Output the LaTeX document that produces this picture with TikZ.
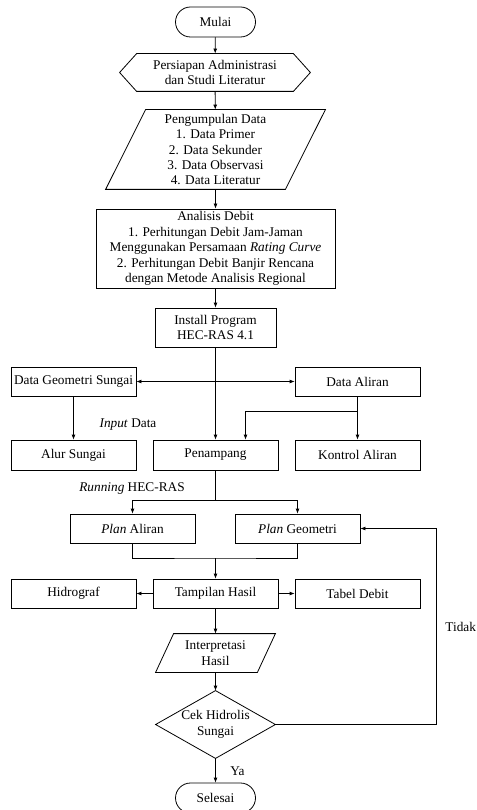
\documentclass[tikz,border=0pt]{standalone}
\usepackage{fontspec}
\setmainfont{Liberation Serif}
\usetikzlibrary{arrows.meta}

\begin{document}
\begin{tikzpicture}[x=1pt,y=-1pt,font=\fontsize{13.3}{15.4}\selectfont,line width=.8pt,
  box/.style={draw,inner sep=0pt,minimum width=125pt,minimum height=29pt,align=center},
  bare/.style={inner sep=0pt,align=center},
  term/.style={draw,rounded corners=15pt,minimum width=80pt,minimum height=30pt},
  arr/.style={-{Latex[length=5pt,width=4pt]}}]
\useasboundingbox (0,0) rectangle (476,810);
\coordinate (split) at (215.5,500);
\coordinate (merge) at (215.5,558);
\coordinate (loop) at (436,724.5);
% main column
\node[term] (mulai) at (215.5,22) {Mulai};
\node[bare,minimum width=190pt,minimum height=37pt] (persiapan) at (215,72.5) {Persiapan Administrasi\\dan Studi Literatur};
\draw (persiapan.west) -- ([xshift=17pt]persiapan.north west) -- ([xshift=-17pt]persiapan.north east) -- (persiapan.east) -- ([xshift=-17pt]persiapan.south east) -- ([xshift=17pt]persiapan.south west) -- cycle;
\node[bare,minimum width=219pt,minimum height=79pt] (pengumpulan) at (215.5,149.5) {Pengumpulan Data\\1. Data Primer\\2. Data Sekunder\\3. Data Observasi\\4. Data Literatur};
\draw ([xshift=40pt]pengumpulan.north west) -- (pengumpulan.north east) -- ([xshift=-40pt]pengumpulan.south east) -- (pengumpulan.south west) -- cycle;
\node[box,minimum width=239pt,minimum height=79pt] (analisis) at (215.5,248.5) {Analisis Debit\\1. Perhitungan Debit Jam-Jaman\\Menggunakan Persamaan \textit{Rating Curve}\\2. Perhitungan Debit Banjir Rencana\\dengan Metode Analisis Regional};
\node[box,minimum width=121pt,minimum height=39pt] (install) at (215.5,327.5) {Install Program\\HEC-RAS 4.1};
\node[box] (geometri) at (73.5,381.5) {Data Geometri Sungai};
\node[box] (aliran) at (357.5,381.5) {Data Aliran};
\node[box,minimum height=30pt] (alur) at (73.5,455) {Alur Sungai};
\node[box,minimum height=30pt] (penampang) at (215.5,455) {Penampang};
\node[box,minimum height=30pt] (kontrol) at (357.5,455) {Kontrol Aliran};
\node[box] (planA) at (132.5,528.5) {\textit{Plan} Aliran};
\node[box] (planG) at (297.5,528.5) {\textit{Plan} Geometri};
\node[box] (hidrograf) at (73.5,593.5) {Hidrograf};
\node[box] (tampilan) at (215.5,593.5) {Tampilan Hasil};
\node[box] (tabel) at (357.5,593.5) {Tabel Debit};
\node[bare,minimum width=119pt,minimum height=38pt] (interpretasi) at (215.5,653) {Interpretasi\\Hasil};
\draw ([xshift=18pt]interpretasi.north west) -- (interpretasi.north east) -- ([xshift=-18pt]interpretasi.south east) -- (interpretasi.south west) -- cycle;
\node[bare,minimum width=119pt,minimum height=67pt] (cek) at (215.5,724.5) {Cek Hidrolis\\Sungai};
\draw (cek.north) -- (cek.east) -- (cek.south) -- (cek.west) -- cycle;
\node[term] (selesai) at (215.5,798) {Selesai};
% labels
\node[bare] (input) at (128,425) {\textit{Input} Data};
\node[bare] (running) at (132,489) {\textit{Running} HEC-RAS};
\node[bare,anchor=west] (tidak) at (445,627) {Tidak};
\node[bare,anchor=west] (ya) at (230,771) {Ya};
% connectors
\draw[arr] (mulai) -- (persiapan);
\draw[arr] (persiapan) -- (pengumpulan);
\draw[arr] (pengumpulan) -- (analisis);
\draw[arr] (analisis) -- (install);
\draw[arr] (install) -- (penampang);
\draw[{Latex[length=5pt,width=4pt]}-{Latex[length=5pt,width=4pt]}] (geometri) -- (aliran);
\draw[arr] (geometri) -- (alur);
\draw[arr] (aliran) -- (kontrol);
\draw[arr] (aliran.south) -- ++(0,15) -| ([xshift=30pt]penampang.north);
\draw (penampang) -- (split);
\draw[arr] (split) -| (planA);
\draw[arr] (split) -| (planG);
\draw (planA.south) |- (merge) -| (planG.south);
\draw[arr] (merge) -- (tampilan);
\draw[arr] (tampilan) -- (hidrograf);
\draw[arr] (tampilan) -- (tabel);
\draw[arr] (tampilan) -- (interpretasi);
\draw[arr] (interpretasi) -- (cek);
\draw[arr] (cek.east) -- (loop) |- (planG.east);
\draw[arr] (cek) -- (selesai);
\end{tikzpicture}
\end{document}
